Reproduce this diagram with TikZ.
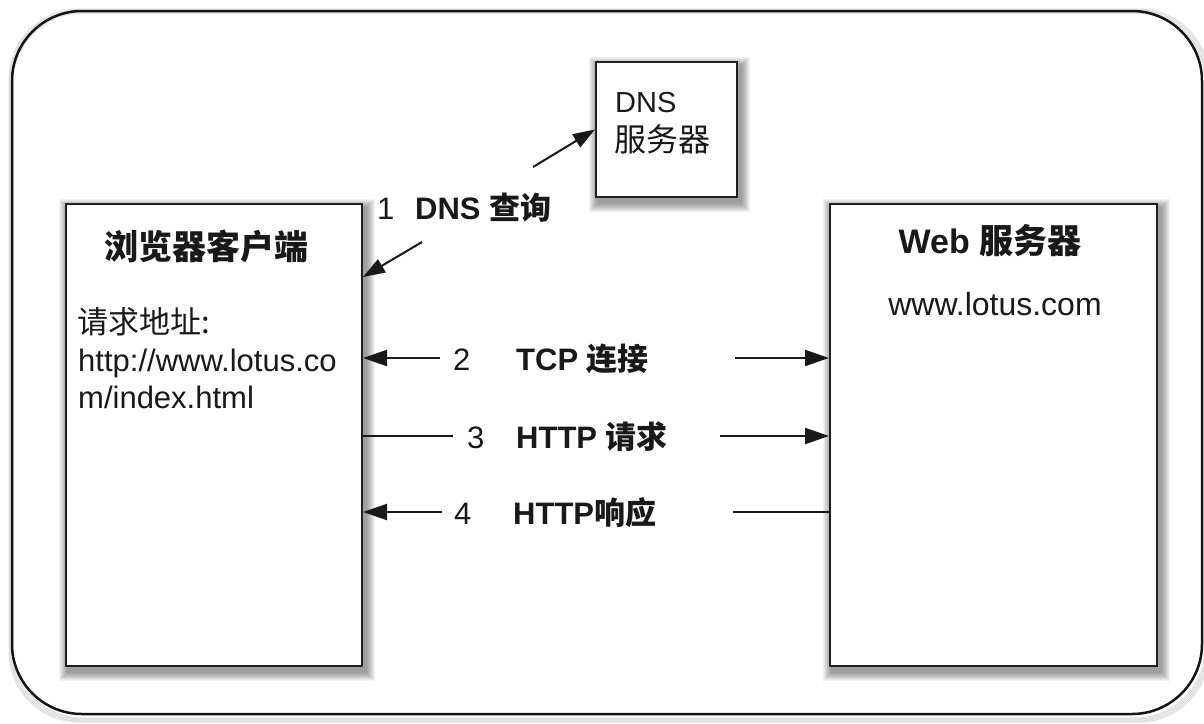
\documentclass[tikz,border=0pt]{standalone}
\usepackage{fontspec}
\setmainfont{Liberation Sans}
\newfontfamily\cjk{Noto Sans CJK SC}
\usetikzlibrary{arrows.meta,backgrounds,calc}
\newcommand\zh[1]{{\cjk #1}}
\newcommand\softshadow[1]{%
  \foreach \i in {1,...,9}{%
    \fill[black,opacity=0.05] ($(#1.north west)+(3-\i,5-\i)$) rectangle ($(#1.south east)+(3+\i,5+\i)$);
  }%
}
\tikzset{
  box/.style={draw=black!88, line width=2pt, fill=white, inner sep=0pt, anchor=north west},
  txt/.style={anchor=base west, inner sep=0pt, text=black!90},
  ctxt/.style={anchor=base, inner sep=0pt, text=black!90},
  arr/.style={line width=2pt, draw=black!90, -{Triangle[length=24pt,width=16pt]}},
  darr/.style={line width=2pt, draw=black!90, -{Triangle[length=22pt,width=15pt]}},
  plain/.style={line width=2pt, draw=black!90},
  reg/.style={font=\fontsize{31}{36}\selectfont},
  bld/.style={font=\bfseries\fontsize{31}{36}\selectfont},
}
\begin{document}
\begin{tikzpicture}[x=1pt,y=-1pt]
\useasboundingbox (0,0) rectangle (1204,723);
% outer frame
\begin{scope}[on background layer]
  \foreach \i in {1,...,5}{%
    \draw[black,opacity=0.12,line width=1pt,rounded corners=70pt] (12-\i+2,11-\i+3) rectangle (1202+\i+2,714+\i+3);
  }
\end{scope}
\draw[line width=2.5pt, draw=black!92, rounded corners=70pt] (12,11) rectangle (1202,714);

% boxes
\node[box, minimum width=296pt, minimum height=462pt] (browser) at (65,203) {};
\node[box, minimum width=327pt, minimum height=462pt] (web) at (829,203) {};
\node[box, minimum width=141pt, minimum height=135pt] (dns) at (595,61) {};
\begin{scope}[on background layer]
  \softshadow{browser}
  \softshadow{web}
  \softshadow{dns}
\end{scope}

% box texts
\node[txt, font=\fontsize{29}{34}\selectfont] (dnsa) at (615,112) {DNS};
\node[txt, font=\fontsize{32}{36}\selectfont\cjk] (dnsb) at (614,151) {服务器};

\node[ctxt, font=\bfseries\fontsize{34}{40}\selectfont\cjk] (btitle) at (206,259) {浏览器客户端};
\node[txt, font=\fontsize{31}{36}\selectfont\cjk] (addr1) at (77,333) {请求地址:};
\node[txt, reg] (addr2) at (78,371) {http://www.lotus.co};
\node[txt, reg] (addr3) at (78,408) {m/index.html};

\node[ctxt, font=\bfseries\fontsize{34}{40}\selectfont] (wtitle) at (990,253) {Web \zh{服务器}};
\node[ctxt, font=\fontsize{32}{38}\selectfont] (wurl) at (995,315) {www.lotus.com};

% labels
\node[txt, reg] (n1) at (377,219) {1};
\node[txt, bld] (l1) at (415,219) {DNS \zh{查询}};
\node[txt, reg] (n2) at (453,370) {2};
\node[txt, bld] (l2) at (516,370) {TCP \zh{连接}};
\node[txt, reg] (n3) at (467,448) {3};
\node[txt, bld] (l3) at (516,448) {HTTP \zh{请求}};
\node[txt, reg] (n4) at (454,524) {4};
\node[txt, bld] (l4) at (513,524) {HTTP\zh{响应}};

% connector free ends
\coordinate (d1) at (533,167);
\coordinate (d2) at (422,242);
\coordinate (t2) at (0,277);
\coordinate (a2l) at (440,358);
\coordinate (a2r) at (735,358);
\coordinate (a3l) at (453,436);
\coordinate (a3r) at (720,436);
\coordinate (a4l) at (442,512);
\coordinate (a4r) at (733,512);

\draw[darr] (d1) -- (dns.west);
\draw[darr] (d2) -- (browser.east |- t2);
\draw[arr] (a2l) -- (a2l -| browser.east);
\draw[arr] (a2r) -- (a2r -| web.west);
\draw[plain] (a3l) -- (a3l -| browser.east);
\draw[arr] (a3r) -- (a3r -| web.west);
\draw[arr] (a4l) -- (a4l -| browser.east);
\draw[plain] (a4r) -- (a4r -| web.west);
\end{tikzpicture}
\end{document}
